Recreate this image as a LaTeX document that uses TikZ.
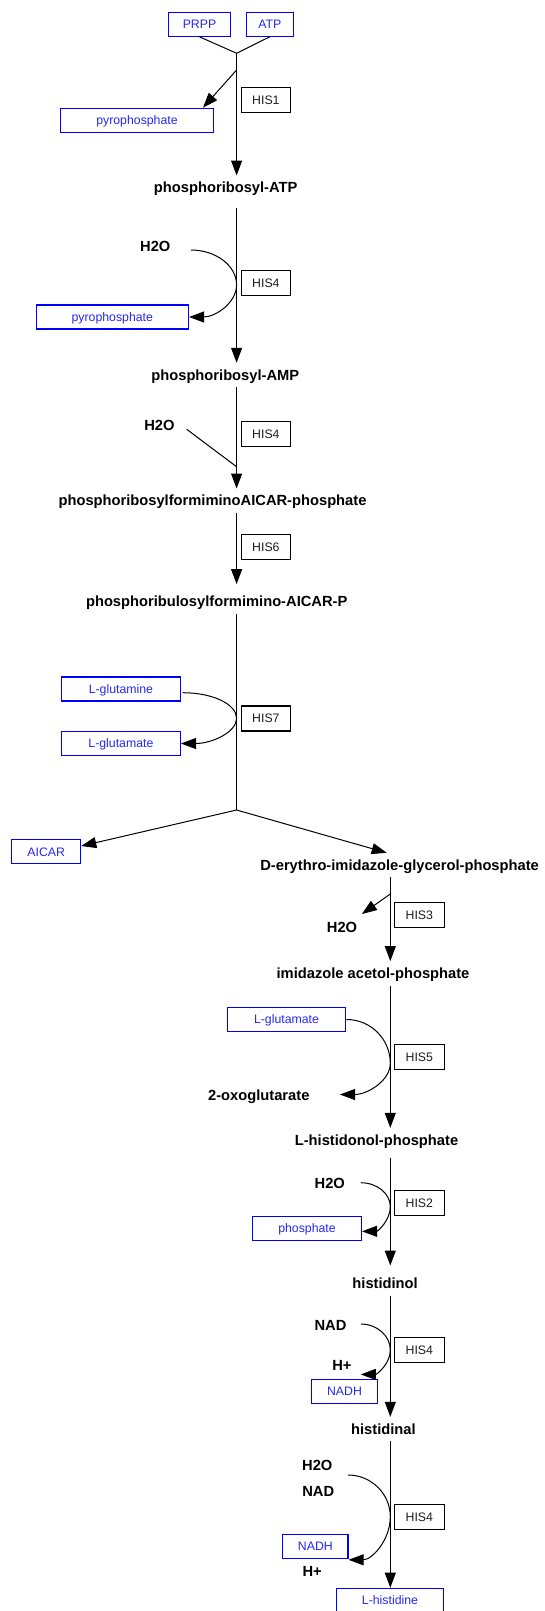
\documentclass[tikz,border=0pt]{standalone}
\usepackage{fontspec}
\setmainfont{Liberation Sans}
\usetikzlibrary{arrows.meta}
\definecolor{metblue}{RGB}{0,0,255}
\definecolor{mettext}{RGB}{40,40,245}
\definecolor{enzgray}{RGB}{30,30,30}

\begin{document}
\begin{tikzpicture}[x=1pt,y=-1pt,
  cpd/.style={font=\fontsize{14.7pt}{16pt}\selectfont\bfseries, inner sep=0pt,
    minimum height=24pt, text height=10.5pt, text depth=0pt},
  met/.style={draw=metblue, line width=1.2pt, text=mettext,
    font=\fontsize{12.3pt}{14pt}\selectfont, inner sep=0pt,
    minimum height=24pt, text height=8.8pt, text depth=0pt},
  enz/.style={draw=black, line width=1.1pt, text=enzgray,
    font=\fontsize{12.3pt}{14pt}\selectfont, inner sep=0pt,
    minimum width=49.6pt, minimum height=25pt, text height=8.8pt, text depth=0pt},
  rxnline/.style={line width=1pt, black},
  rxnarrow/.style={rxnline, -{Triangle[length=15pt,width=11pt]}},
]
\fill[white] (0,0) rectangle (544,1611);
\useasboundingbox (0,0) rectangle (544,1611);

% ---- boxed (blue) metabolites
\node[met, minimum width=62.4pt]  (prpp)  at (199.5,24.2)  {PRPP};
\node[met, minimum width=46.9pt]  (atp)   at (269.8,24.2)  {ATP};
\node[met, minimum width=152.7pt] (ppi1)  at (137,120.3)   {pyrophosphate};
\node[met, minimum width=152.3pt] (ppi2)  at (112.3,317)   {pyrophosphate};
\node[met, minimum width=119pt]   (gln)   at (120.9,689)   {L-glutamine};
\node[met, minimum width=119pt]   (glu1)  at (120.9,743.5) {L-glutamate};
\node[met, minimum width=69pt]    (aicar) at (46.2,851.7)  {AICAR};
\node[met, minimum width=118.7pt] (glu2)  at (286.5,1019.5){L-glutamate};
\node[met, minimum width=108.9pt] (pi)    at (307,1228.3)  {phosphate};
\node[met, minimum width=65.9pt]  (nadh1) at (344.5,1391.3){NADH};
\node[met, minimum width=65.2pt]  (nadh2) at (315.4,1546.2){NADH};
\node[met, minimum width=106.8pt] (his)   at (390,1600.3)  {L-histidine};

% ---- main-chain compounds
\node[cpd] (pratp)    at (225.7,187.7) {phosphoribosyl-ATP};
\node[cpd] (pramp)    at (225.3,375)   {phosphoribosyl-AMP};
\node[cpd] (prfa)     at (212.5,500.7) {phosphoribosylformiminoAICAR-phosphate};
\node[cpd] (prul)     at (216.7,601.7) {phosphoribulosylformimino-AICAR-P};
\node[cpd] (derythro) at (399.6,865)   {D-erythro-imidazole-glycerol-phosphate};
\node[cpd] (imid)     at (373,973.3)   {imidazole acetol-phosphate};
\node[cpd] (holp)     at (376.5,1140)  {L-histidonol-phosphate};
\node[cpd] (hol)      at (385.1,1283.3){histidinol};
\node[cpd] (hal)      at (383.4,1429)  {histidinal};

% ---- side compounds (plain labels)
\node[cpd] (h2oA) at (155.3,246.7)  {H2O};
\node[cpd] (h2oB) at (159.4,425)    {H2O};
\node[cpd] (h2oC) at (342,927.3)    {H2O};
\node[cpd] (oxo)  at (258.8,1095)   {2-oxoglutarate};
\node[cpd] (h2oD) at (329.8,1183.3) {H2O};
\node[cpd] (nadA) at (330.5,1325)   {NAD};
\node[cpd] (hA)   at (341.9,1365)   {H+};
\node[cpd] (h2oE) at (317.3,1465.7) {H2O};
\node[cpd] (nadB) at (318.2,1491)   {NAD};
\node[cpd] (hB)   at (312.1,1571.7) {H+};

% ---- enzymes
\node[enz] (e1) at (265.9,99.8)   {HIS1};
\node[enz] (e2) at (265.9,283.4)  {HIS4};
\node[enz] (e3) at (265.9,434.2)  {HIS4};
\node[enz] (e4) at (265.9,546.8)  {HIS6};
\node[enz] (e5) at (265.9,718.5)  {HIS7};
\node[enz] (e6) at (419.3,914.8)  {HIS3};
\node[enz] (e7) at (419.3,1056.8) {HIS5};
\node[enz] (e8) at (419.3,1203.2) {HIS2};
\node[enz] (e9) at (419.3,1349.8) {HIS4};
\node[enz] (e10) at (419.3,1516.7){HIS4};

% ---- junction and contact points on the reaction axes
\coordinate (j1) at (236.6,53.3);
\coordinate (b1) at (236.6,70);
\coordinate (b2) at (236.6,810);
\coordinate (b3) at (390.3,894);
\coordinate (t1) at (236.6,285);
\coordinate (t2) at (236.6,466.7);
\coordinate (t3) at (236.6,718.3);
\coordinate (t4) at (390.3,1063.3);
\coordinate (t5) at (390.3,1206.7);
\coordinate (t6) at (390.3,1350);
\coordinate (t7) at (390.3,1516.7);

% ---- main chain
\draw[rxnline] (prpp.south) -- (j1);
\draw[rxnline] (atp.south) -- (j1);
\draw[rxnarrow] (j1) -- (pratp.north -| j1);
\draw[rxnarrow] (b1) -- ([shift={(66,0)}]ppi1.north);
\draw[rxnarrow, shorten <=7.6pt] (pratp.south -| j1) -- (pramp.north -| j1);
\draw[rxnarrow] (pramp.south -| j1) -- (prfa.north -| j1);
\draw[rxnarrow, shorten >=5.4pt] (prfa.south -| j1) -- (prul.north -| j1);
\draw[rxnline] (prul.south -| j1) -- (b2);
\draw[rxnarrow] (b2) -- ([shift={(0,-5.7)}]aicar.east);
\draw[rxnarrow] (b2) -- ([shift={(-12.9,0)}]derythro.north);
\draw[rxnarrow] (derythro.south -| b3) -- (imid.north -| b3);
\draw[rxnarrow] (b3) -- ([shift={(19.9,-13.3)}]h2oC.center);
\draw[rxnarrow] (imid.south -| b3) -- (holp.north -| b3);
\draw[rxnarrow, shorten <=5.3pt, shorten >=5.6pt] (holp.south -| b3) -- (hol.north -| b3);
\draw[rxnarrow] (hol.south -| b3) -- (hal.north -| b3);
\draw[rxnarrow] (hal.south -| b3) -- (his.north -| b3);

% ---- side reactions
\draw[rxnarrow] ([shift={(35.5,3.3)}]h2oA.center)
  .. controls +(25.2,0) and +(0,-19.3) .. (t1)
  .. controls +(0,17.6) and +(26.5,0) .. (ppi2.east);
\draw[rxnline] ([shift={(27.3,4.3)}]h2oB.center) -- (t2);
\draw[rxnarrow] ([shift={(1.7,3.7)}]gln.east)
  .. controls +(30,0) and +(0,-14.1) .. (t3)
  .. controls +(0,13.9) and +(30.9,0) .. (glu1.east);
\draw[rxnarrow] (glu2.east)
  .. controls +(24.4,0) and +(0,-24.1) .. (t4)
  .. controls +(0,17.2) and +(27.7,0) .. ([shift={(81.2,-0.5)}]oxo.center);
\draw[rxnarrow] ([shift={(31,-0.6)}]h2oD.center)
  .. controls +(16.2,0) and +(0,-13.2) .. (t5)
  .. controls +(0,13.5) and +(15.8,0) .. ([shift={(0,3)}]pi.east);
\draw[rxnarrow] ([shift={(30.3,-1)}]nadA.center)
  .. controls +(16.2,0) and +(0,-14.3) .. (t6)
  .. controls +(0,13.8) and +(16.2,0) .. ([shift={(16.3,-4.3)}]nadh1.north);
\draw[rxnarrow] ([shift={(30.7,9.3)}]h2oE.center)
  .. controls +(23.3,0) and +(0,-22.9) .. (t7)
  .. controls +(0,23.4) and +(23.3,0) .. ([shift={(0,1)}]nadh2.south east);
\end{tikzpicture}
\end{document}
